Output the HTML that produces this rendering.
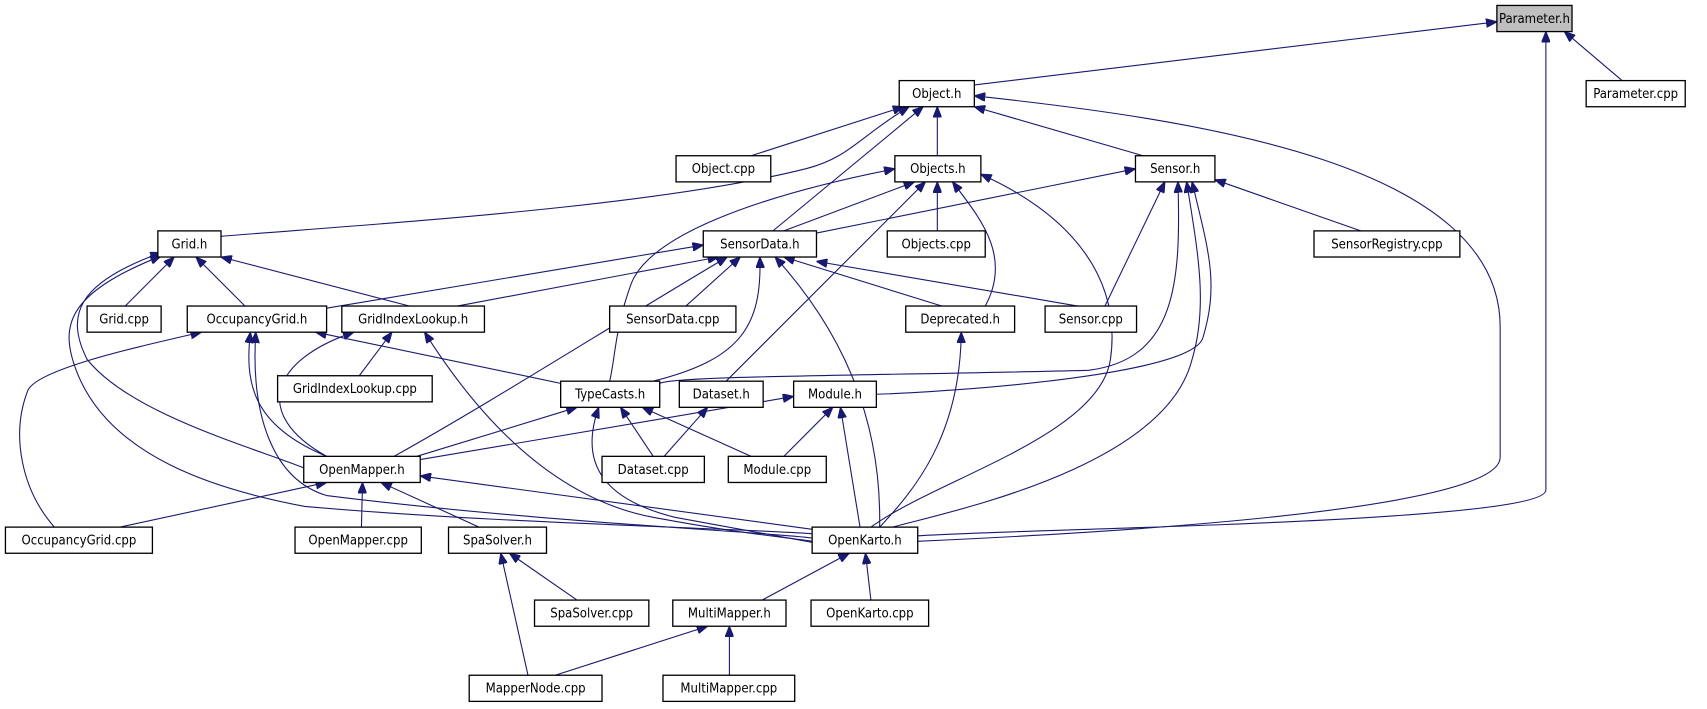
<!DOCTYPE html>
<html><head><meta charset="utf-8"><style>html,body{margin:0;padding:0;background:#fff;width:1707px;height:709px;overflow:hidden}</style></head>
<body>
<svg width="1707" height="709" viewBox="0 0 1568 651" preserveAspectRatio="none" xmlns="http://www.w3.org/2000/svg">
<defs><marker id="a" markerWidth="10" markerHeight="8" refX="10" refY="4" orient="auto-start-reverse" markerUnits="userSpaceOnUse"><path d="M0,0 L10,4 L0,8 Z" fill="#191970" stroke="#191970"/></marker></defs>
<g fill="none" stroke="#191970" stroke-width="1" marker-start="url(#a)">
<path d="M1375,20 L895,78"/>
<path d="M1437,29 L1490,74"/>
<path d="M1420,29 L1420,450 C1420,480 950,485 843,492"/>
<path d="M830,98 L690,143"/>
<path d="M861,98 L861,143"/>
<path d="M895,98 L1050,143"/>
<path d="M835,98 C790,125 780,145 740,155 C600,190 350,205 203,217"/>
<path d="M848,98 L710,212"/>
<path d="M895,88 C1100,110 1378,150 1378,300 L1378,420 C1378,470 1000,490 843,497"/>
<path d="M840,167 L720,212"/>
<path d="M861,167 L861,212"/>
<path d="M875,167 C900,200 930,235 905,281"/>
<path d="M850,167 L667,350"/>
<path d="M822,155 C720,175 600,210 580,260 C565,300 565,330 560,350"/>
<path d="M901,160 C990,200 1030,260 1020,330 C1010,400 860,440 800,484"/>
<path d="M1043,155 L750,214"/>
<path d="M1116,165 L1250,212"/>
<path d="M1070,167 L1015,281"/>
<path d="M1082,167 C1085,260 1080,330 1000,340 C800,345 620,345 606,352"/>
<path d="M1095,167 C1110,230 1120,260 1105,310 C1095,345 870,360 805,362"/>
<path d="M1090,167 C1100,230 1110,280 1095,330 C1070,430 870,470 820,484"/>
<path d="M646,225 L300,283"/>
<path d="M660,236 L420,281"/>
<path d="M668,236 C560,300 450,370 362,419"/>
<path d="M680,236 L630,281"/>
<path d="M698,236 C700,300 680,330 600,350"/>
<path d="M720,236 L865,281"/>
<path d="M750,240 L990,281"/>
<path d="M712,236 C770,300 810,380 808,484"/>
<path d="M160,236 L115,281"/>
<path d="M180,236 L225,281"/>
<path d="M203,236 L376,281"/>
<path d="M148,232 C70,260 60,290 80,330 C120,380 230,410 280,430"/>
<path d="M148,235 C60,270 55,300 70,340 C100,420 200,450 280,465 C450,480 650,484 746,490"/>
<path d="M290,305 L515,352"/>
<path d="M185,305 C120,320 30,340 25,360 C10,400 20,450 50,484"/>
<path d="M230,305 C225,350 230,390 300,419"/>
<path d="M235,305 C230,380 250,440 300,455 C500,480 700,488 746,494"/>
<path d="M360,305 L330,345"/>
<path d="M325,305 C250,330 230,380 300,419"/>
<path d="M390,305 C450,400 520,460 600,475 C680,490 720,493 746,497"/>
<path d="M530,374 L383,419"/>
<path d="M570,374 L600,419"/>
<path d="M590,374 L690,419"/>
<path d="M550,374 C530,430 560,460 620,475 C700,490 740,497 746,498"/>
<path d="M650,374 L610,419"/>
<path d="M729,364 L386,422"/>
<path d="M765,374 L720,419"/>
<path d="M772,374 L790,484"/>
<path d="M883,305 C882,400 840,450 808,484"/>
<path d="M300,443 L110,484"/>
<path d="M333,443 L332,484"/>
<path d="M350,443 L440,484"/>
<path d="M386,437 L746,486"/>
<path d="M468,508 L530,551"/>
<path d="M460,508 L485,620"/>
<path d="M780,508 L700,551"/>
<path d="M795,508 L800,551"/>
<path d="M650,575 L510,620"/>
<path d="M670,575 L670,620"/>
</g>
<g stroke="#000" stroke-width="1.2" fill="#fff">
<rect x="1375" y="5" width="69" height="24" fill="#bfbfbf"/>
<rect x="826" y="74" width="69" height="24"/>
<rect x="1457" y="74" width="91" height="24"/>
<rect x="621" y="143" width="87" height="24"/>
<rect x="822" y="143" width="79" height="24"/>
<rect x="1043" y="143" width="73" height="24"/>
<rect x="145" y="212" width="58" height="24"/>
<rect x="646" y="212" width="104" height="24"/>
<rect x="815" y="212" width="90" height="24"/>
<rect x="1207" y="212" width="134" height="24"/>
<rect x="80" y="281" width="68" height="24"/>
<rect x="172" y="281" width="128" height="24"/>
<rect x="314" y="281" width="131" height="24"/>
<rect x="560" y="281" width="116" height="24"/>
<rect x="832" y="281" width="100" height="24"/>
<rect x="960" y="281" width="84" height="24"/>
<rect x="255" y="345" width="142" height="24"/>
<rect x="515" y="350" width="91" height="24"/>
<rect x="624" y="350" width="77" height="24"/>
<rect x="729" y="350" width="76" height="24"/>
<rect x="279" y="419" width="107" height="24"/>
<rect x="553" y="419" width="94" height="24"/>
<rect x="669" y="419" width="90" height="24"/>
<rect x="5" y="484" width="135" height="24"/>
<rect x="271" y="484" width="116" height="24"/>
<rect x="412" y="484" width="90" height="24"/>
<rect x="746" y="484" width="97" height="24"/>
<rect x="491" y="551" width="105" height="24"/>
<rect x="618" y="551" width="104" height="24"/>
<rect x="745" y="551" width="108" height="24"/>
<rect x="431" y="620" width="122" height="24"/>
<rect x="609" y="620" width="121" height="24"/>
</g>
<g font-family="'DejaVu Sans Condensed','DejaVu Sans',sans-serif" font-size="12" text-anchor="middle" fill="#000">
<text x="1409.5" y="21">Parameter.h</text>
<text x="860.5" y="90">Object.h</text>
<text x="1502.5" y="90">Parameter.cpp</text>
<text x="664.5" y="159">Object.cpp</text>
<text x="861.5" y="159">Objects.h</text>
<text x="1079.5" y="159">Sensor.h</text>
<text x="174" y="228">Grid.h</text>
<text x="698" y="228">SensorData.h</text>
<text x="860" y="228">Objects.cpp</text>
<text x="1274" y="228">SensorRegistry.cpp</text>
<text x="114" y="297">Grid.cpp</text>
<text x="236" y="297">OccupancyGrid.h</text>
<text x="379.5" y="297">GridIndexLookup.h</text>
<text x="618" y="297">SensorData.cpp</text>
<text x="882" y="297">Deprecated.h</text>
<text x="1002" y="297">Sensor.cpp</text>
<text x="326" y="361">GridIndexLookup.cpp</text>
<text x="560.5" y="366">TypeCasts.h</text>
<text x="662.5" y="366">Dataset.h</text>
<text x="767" y="366">Module.h</text>
<text x="332.5" y="435">OpenMapper.h</text>
<text x="600" y="435">Dataset.cpp</text>
<text x="714" y="435">Module.cpp</text>
<text x="72.5" y="500">OccupancyGrid.cpp</text>
<text x="329" y="500">OpenMapper.cpp</text>
<text x="457" y="500">SpaSolver.h</text>
<text x="794.5" y="500">OpenKarto.h</text>
<text x="543.5" y="567">SpaSolver.cpp</text>
<text x="670" y="567">MultiMapper.h</text>
<text x="799" y="567">OpenKarto.cpp</text>
<text x="492" y="636">MapperNode.cpp</text>
<text x="669.5" y="636">MultiMapper.cpp</text>
</g>
</svg>
</body></html>
